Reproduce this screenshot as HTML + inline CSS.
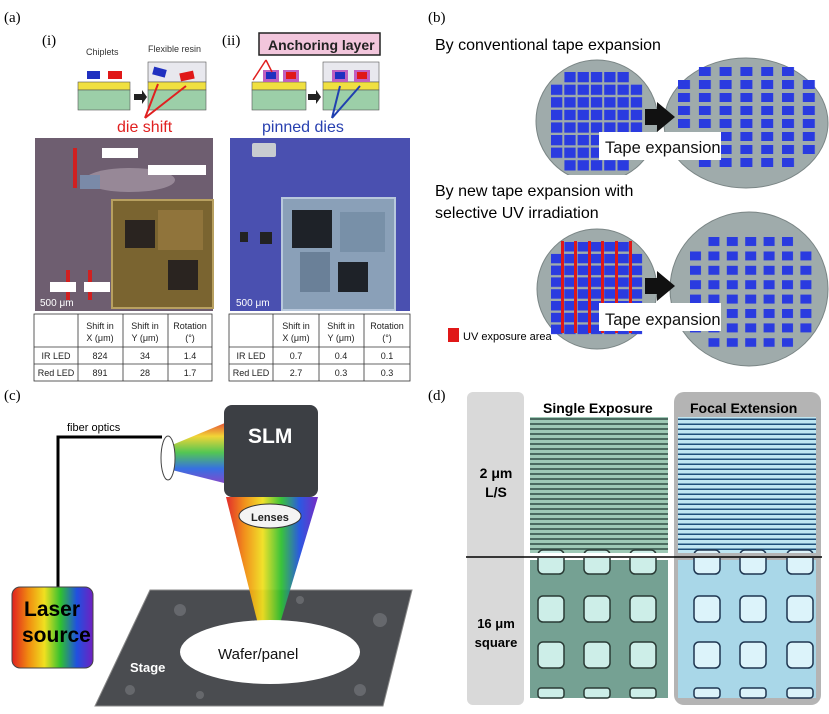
<!DOCTYPE html>
<html><head><meta charset="utf-8"><style>
body{margin:0;background:#fff}
svg{display:block}
text{font-family:"Liberation Sans","DejaVu Sans",sans-serif}
.serif{font-family:"Liberation Serif",serif}
</style></head><body>
<svg width="829" height="714" viewBox="0 0 829 714" xmlns="http://www.w3.org/2000/svg">
<defs>
<linearGradient id="rb" x1="0" x2="1" y1="0" y2="0">
<stop offset="0" stop-color="#e02020"/><stop offset="0.2" stop-color="#f08a10"/><stop offset="0.4" stop-color="#f0e020"/><stop offset="0.6" stop-color="#30c030"/><stop offset="0.8" stop-color="#2050e0"/><stop offset="1" stop-color="#7020c0"/>
</linearGradient>
<linearGradient id="rbv" x1="0" x2="0" y1="0" y2="1">
<stop offset="0" stop-color="#e02020"/><stop offset="0.25" stop-color="#f0d020"/><stop offset="0.5" stop-color="#40c040"/><stop offset="0.75" stop-color="#2060e0"/><stop offset="1" stop-color="#8030c0"/>
</linearGradient>
<pattern id="ls1" width="10" height="5" patternUnits="userSpaceOnUse"><rect width="10" height="5" fill="#9ec9b6"/><rect y="3" width="10" height="2" fill="#4a6b60"/></pattern>
<pattern id="ls2" width="10" height="5" patternUnits="userSpaceOnUse"><rect width="10" height="5" fill="#bfe6f2"/><rect y="3.5" width="10" height="1.5" fill="#1e4f7a"/></pattern>
<pattern id="pUL" x="551" y="72" width="13.3" height="12.6" patternUnits="userSpaceOnUse"><rect width="11.3" height="10.3" fill="#2a3be0"/></pattern>
<pattern id="pUR" x="678" y="67" width="20.8" height="13" patternUnits="userSpaceOnUse"><rect width="12" height="9" fill="#2a3be0"/></pattern>
<pattern id="pLL" x="551" y="242" width="13.3" height="11.8" patternUnits="userSpaceOnUse"><rect width="11.3" height="9.5" fill="#2a3be0"/></pattern>
<pattern id="pLR" x="690" y="237" width="18.4" height="14.4" patternUnits="userSpaceOnUse"><rect width="11" height="9" fill="#2a3be0"/></pattern>
<clipPath id="cU"><rect x="400" y="0" width="429" height="175"/></clipPath>
</defs>

<!-- (a) -->
<text x="4" y="22" font-size="15" class="serif">(a)</text>
<text x="42" y="45" font-size="15" class="serif">(i)</text>
<text x="222" y="45" font-size="15" class="serif">(ii)</text>
<text x="86" y="55" font-size="9" fill="#333">Chiplets</text>
<text x="148" y="52" font-size="9" fill="#333">Flexible resin</text>
<rect x="78" y="82" width="52" height="8" fill="#f0e040" stroke="#555" stroke-width=".6"/>
<rect x="78" y="90" width="52" height="20" fill="#9ccfa8" stroke="#555" stroke-width=".6"/>
<rect x="87" y="71" width="13" height="8" fill="#2030c0"/><rect x="108" y="71" width="14" height="8" fill="#e01818"/>
<polygon points="134,94 142,94 142,90 147,97 142,104 142,100 134,100" fill="#222"/>
<rect x="148" y="62" width="58" height="20" fill="#e8e8ee" stroke="#555" stroke-width=".6"/>
<rect x="148" y="82" width="58" height="8" fill="#f0e040" stroke="#555" stroke-width=".6"/>
<rect x="148" y="90" width="58" height="20" fill="#9ccfa8" stroke="#555" stroke-width=".6"/>
<rect x="153" y="68" width="13" height="8" fill="#2030c0" transform="rotate(15 159 72)"/><rect x="180" y="72" width="14" height="8" fill="#e01818" transform="rotate(-12 187 76)"/>
<path d="M145 118 L158 84 M145 118 L186 86" stroke="#e02020" stroke-width="2"/>
<text x="117" y="132" font-size="16" fill="#e02020">die shift</text>
<rect x="259" y="33" width="121" height="22" fill="#f2c6dc" stroke="#222" stroke-width="1.5"/>
<text x="268" y="50" font-size="14" font-weight="bold" fill="#222">Anchoring layer</text>
<rect x="252" y="82" width="54" height="8" fill="#f0e040" stroke="#555" stroke-width=".6"/>
<rect x="252" y="90" width="54" height="20" fill="#9ccfa8" stroke="#555" stroke-width=".6"/>
<rect x="263" y="70" width="16" height="12" fill="#c060c0"/><rect x="283" y="70" width="16" height="12" fill="#c060c0"/>
<rect x="266" y="72" width="10" height="7" fill="#2030c0"/><rect x="286" y="72" width="10" height="7" fill="#e01818"/>
<path d="M266 60 L253 80 M266 60 L272 72" stroke="#e02020" stroke-width="1.5"/>
<polygon points="308,94 316,94 316,90 321,97 316,104 316,100 308,100" fill="#222"/>
<rect x="323" y="62" width="56" height="20" fill="#e8e8ee" stroke="#555" stroke-width=".6"/>
<rect x="323" y="82" width="56" height="8" fill="#f0e040" stroke="#555" stroke-width=".6"/>
<rect x="323" y="90" width="56" height="20" fill="#9ccfa8" stroke="#555" stroke-width=".6"/>
<rect x="332" y="70" width="16" height="12" fill="#c060c0"/><rect x="354" y="70" width="16" height="12" fill="#c060c0"/>
<rect x="335" y="72" width="10" height="7" fill="#2030c0"/><rect x="357" y="72" width="10" height="7" fill="#e01818"/>
<path d="M332 118 L340 86 M332 118 L360 86" stroke="#2040b0" stroke-width="2"/>
<text x="262" y="132" font-size="16" fill="#2840b0">pinned dies</text>

<!-- photo (i) -->
<rect x="35" y="138" width="178" height="173" fill="#6e5e70"/>
<ellipse cx="130" cy="180" rx="45" ry="12" fill="#a89aa8" opacity=".7"/>
<rect x="80" y="175" width="20" height="14" fill="#7a8aa8"/>
<rect x="112" y="200" width="101" height="108" fill="#7a6430" stroke="#b8a060" stroke-width="2"/>
<rect x="125" y="220" width="30" height="28" fill="#2a2420"/>
<rect x="168" y="260" width="30" height="30" fill="#2a2420"/>
<rect x="158" y="210" width="45" height="40" fill="#9a7a40" opacity=".7"/>
<rect x="73" y="148" width="4" height="40" fill="#d02020"/>
<rect x="66" y="270" width="4" height="30" fill="#d02020"/><rect x="88" y="270" width="4" height="30" fill="#d02020"/>
<rect x="50" y="282" width="26" height="10" fill="#fff"/><rect x="84" y="282" width="26" height="10" fill="#fff"/>
<rect x="102" y="148" width="36" height="10" fill="#fff"/><rect x="148" y="165" width="58" height="10" fill="#fff"/>
<text x="40" y="306" font-size="10" fill="#fff">500 μm</text>
<!-- photo (ii) -->
<rect x="230" y="138" width="180" height="173" fill="#4a50b0"/>
<rect x="282" y="198" width="113" height="112" fill="#8aa0b8" stroke="#b8c8dc" stroke-width="2"/>
<rect x="292" y="210" width="40" height="38" fill="#1e2228"/>
<rect x="338" y="262" width="30" height="30" fill="#1e2228"/>
<rect x="300" y="252" width="30" height="40" fill="#6a8098"/>
<rect x="340" y="212" width="45" height="40" fill="#7890a8"/>
<rect x="240" y="232" width="8" height="10" fill="#222"/><rect x="260" y="232" width="12" height="12" fill="#222"/>
<rect x="252" y="143" width="24" height="14" rx="2" fill="#c8ccd0"/>
<text x="236" y="306" font-size="10" fill="#fff">500 μm</text>

<!-- tables -->
<g font-size="9" fill="#222" text-anchor="middle" stroke="none">
<rect x="34" y="314" width="178" height="67" fill="#fff" stroke="#333" stroke-width=".8"/>
<path d="M34 347H212M34 364H212M78 314V381M123 314V381M168 314V381" stroke="#333" stroke-width=".8"/>
<text x="100" y="329">Shift in</text><text x="100" y="341">X (μm)</text>
<text x="145" y="329">Shift in</text><text x="145" y="341">Y (μm)</text>
<text x="190" y="329">Rotation</text><text x="190" y="341">(°)</text>
<text x="56" y="359">IR LED</text><text x="100" y="359">824</text><text x="145" y="359">34</text><text x="190" y="359">1.4</text>
<text x="56" y="376">Red LED</text><text x="100" y="376">891</text><text x="145" y="376">28</text><text x="190" y="376">1.7</text>
<rect x="229" y="314" width="181" height="67" fill="#fff" stroke="#333" stroke-width=".8"/>
<path d="M229 347H410M229 364H410M273 314V381M319 314V381M364 314V381" stroke="#333" stroke-width=".8"/>
<text x="296" y="329">Shift in</text><text x="296" y="341">X (μm)</text>
<text x="341" y="329">Shift in</text><text x="341" y="341">Y (μm)</text>
<text x="387" y="329">Rotation</text><text x="387" y="341">(°)</text>
<text x="251" y="359">IR LED</text><text x="296" y="359">0.7</text><text x="341" y="359">0.4</text><text x="387" y="359">0.1</text>
<text x="251" y="376">Red LED</text><text x="296" y="376">2.7</text><text x="341" y="376">0.3</text><text x="387" y="376">0.3</text>
</g>

<!-- (b) -->
<text x="428" y="22" font-size="15" class="serif">(b)</text>
<text x="435" y="50" font-size="16">By conventional tape expansion</text>
<g clip-path="url(#cU)">
<circle cx="597" cy="121" r="61" fill="#9fabab" stroke="#7a8585"/>
<rect x="551" y="84.6" width="93" height="75" fill="url(#pUL)"/>
<rect x="564.3" y="72" width="66" height="11" fill="url(#pUL)"/>
<rect x="564.3" y="159.8" width="66" height="12" fill="url(#pUL)"/>
</g>
<ellipse cx="746" cy="123" rx="82" ry="65" fill="#9fabab" stroke="#7a8585"/>
<rect x="698.8" y="67" width="100" height="101" fill="url(#pUR)"/>
<rect x="678" y="80" width="13" height="49" fill="url(#pUR)"/>
<rect x="802.4" y="80" width="13" height="76" fill="url(#pUR)"/>
<polygon points="645,109 657,109 657,102 675,117 657,132 657,125 645,125" fill="#111"/>
<rect x="599" y="132" width="122" height="28" fill="#fff"/>
<text x="605" y="153" font-size="16.5" fill="#111">Tape expansion</text>

<text x="435" y="196" font-size="16">By new tape expansion with</text>
<text x="435" y="218" font-size="16">selective UV irradiation</text>
<circle cx="597" cy="289" r="60" fill="#9fabab" stroke="#7a8585"/>
<rect x="551" y="253.8" width="93" height="82" fill="url(#pLL)"/>
<rect x="564.3" y="242" width="66" height="10" fill="url(#pLL)"/>
<g fill="#e01818"><rect x="561" y="241" width="3" height="92"/><rect x="574" y="241" width="3" height="92"/><rect x="588" y="241" width="3" height="92"/><rect x="601" y="241" width="3" height="92"/><rect x="615" y="241" width="3" height="92"/><rect x="629" y="241" width="3" height="92"/></g>
<ellipse cx="749" cy="289" rx="79" ry="77" fill="#9fabab" stroke="#7a8585"/>
<rect x="690" y="251.4" width="122" height="83" fill="url(#pLR)"/>
<rect x="708.4" y="237" width="85" height="10" fill="url(#pLR)"/>
<rect x="708.4" y="338.2" width="85" height="10" fill="url(#pLR)"/>
<polygon points="645,278 657,278 657,271 675,286 657,301 657,294 645,294" fill="#111"/>
<rect x="599" y="303" width="122" height="28" fill="#fff"/>
<text x="605" y="325" font-size="16.5" fill="#111">Tape expansion</text>
<rect x="448" y="328" width="11" height="14" fill="#e01818"/>
<text x="463" y="340" font-size="11">UV exposure area</text>

<!-- (c) -->
<text x="4" y="400" font-size="15" class="serif">(c)</text>
<polygon points="150,590 412,590 383,706 95,706" fill="#4a4c50"/>
<g fill="#7a7c80" opacity=".6"><circle cx="180" cy="610" r="6"/><circle cx="380" cy="620" r="7"/><circle cx="130" cy="690" r="5"/><circle cx="360" cy="690" r="6"/><circle cx="300" cy="600" r="4"/><circle cx="200" cy="695" r="4"/></g>
<polygon points="150,590 412,590 383,706 95,706" fill="none" stroke="#888" stroke-width="1"/>
<polygon points="226,497 318,497 275,640 262,640" fill="url(#rb)" opacity=".95"/>
<polygon points="172,445 232,420 232,485 172,470" fill="url(#rbv)" opacity=".9"/>
<ellipse cx="270" cy="652" rx="90" ry="32" fill="#fff"/>
<text x="218" y="659" font-size="15" fill="#111">Wafer/panel</text>
<text x="130" y="672" font-size="13" font-weight="bold" fill="#fff">Stage</text>
<rect x="224" y="405" width="94" height="92" rx="8" fill="#3c3f44"/>
<text x="248" y="443" font-size="21" font-weight="bold" fill="#fff">SLM</text>
<ellipse cx="270" cy="516" rx="31" ry="12" fill="#f4f4f4" stroke="#333"/>
<text x="251" y="521" font-size="11" font-weight="bold" fill="#222">Lenses</text>
<path d="M58 587 V437 H162" stroke="#000" stroke-width="3" fill="none"/>
<text x="67" y="431" font-size="11">fiber optics</text>
<ellipse cx="168" cy="458" rx="7" ry="22" fill="#fff" stroke="#444"/>
<rect x="12" y="587" width="81" height="81" rx="8" fill="url(#rb)" stroke="#444"/>
<text x="24" y="616" font-size="21" font-weight="bold" fill="#000">Laser</text>
<text x="22" y="642" font-size="21" font-weight="bold" fill="#000">source</text>

<!-- (d) -->
<text x="428" y="400" font-size="15" class="serif">(d)</text>
<rect x="467" y="392" width="57" height="313" rx="6" fill="#d9d9d9"/>
<rect x="674" y="392" width="147" height="313" rx="10" fill="#b4b4b4"/>
<text x="543" y="413" font-size="14" font-weight="bold">Single Exposure</text>
<text x="690" y="413" font-size="14" font-weight="bold">Focal Extension</text>
<rect x="530" y="417" width="138" height="136" fill="url(#ls1)"/>
<rect x="678" y="417" width="138" height="136" fill="url(#ls2)"/>
<text x="496" y="478" font-size="14" font-weight="bold" text-anchor="middle">2 μm</text>
<text x="496" y="497" font-size="14" font-weight="bold" text-anchor="middle">L/S</text>
<rect x="530" y="560" width="138" height="138" fill="#75a193"/>
<rect x="678" y="560" width="138" height="138" fill="#a9d7e8"/>
<g fill="#cdeee8" stroke="#2a3a35" stroke-width="1.5">
<rect x="538" y="550" width="26" height="24" rx="5"/><rect x="584" y="550" width="26" height="24" rx="5"/><rect x="630" y="550" width="26" height="24" rx="5"/>
<rect x="538" y="596" width="26" height="26" rx="5"/><rect x="584" y="596" width="26" height="26" rx="5"/><rect x="630" y="596" width="26" height="26" rx="5"/>
<rect x="538" y="642" width="26" height="26" rx="5"/><rect x="584" y="642" width="26" height="26" rx="5"/><rect x="630" y="642" width="26" height="26" rx="5"/>
<rect x="538" y="688" width="26" height="10" rx="3"/><rect x="584" y="688" width="26" height="10" rx="3"/><rect x="630" y="688" width="26" height="10" rx="3"/>
</g>
<g fill="#dcf3fa" stroke="#1e3550" stroke-width="1.5">
<rect x="694" y="550" width="26" height="24" rx="5"/><rect x="740" y="550" width="26" height="24" rx="5"/><rect x="787" y="550" width="26" height="24" rx="5"/>
<rect x="694" y="596" width="26" height="26" rx="5"/><rect x="740" y="596" width="26" height="26" rx="5"/><rect x="787" y="596" width="26" height="26" rx="5"/>
<rect x="694" y="642" width="26" height="26" rx="5"/><rect x="740" y="642" width="26" height="26" rx="5"/><rect x="787" y="642" width="26" height="26" rx="5"/>
<rect x="694" y="688" width="26" height="10" rx="3"/><rect x="740" y="688" width="26" height="10" rx="3"/><rect x="787" y="688" width="26" height="10" rx="3"/>
</g>
<rect x="530" y="553" width="138" height="5" fill="#fff"/><rect x="678" y="553" width="138" height="5" fill="#b4b4b4"/>
<line x1="466" y1="557" x2="822" y2="557" stroke="#000" stroke-width="1.5"/>
<text x="496" y="628" font-size="13" font-weight="bold" text-anchor="middle">16 μm</text>
<text x="496" y="647" font-size="13" font-weight="bold" text-anchor="middle">square</text>
</svg>
</body></html>
